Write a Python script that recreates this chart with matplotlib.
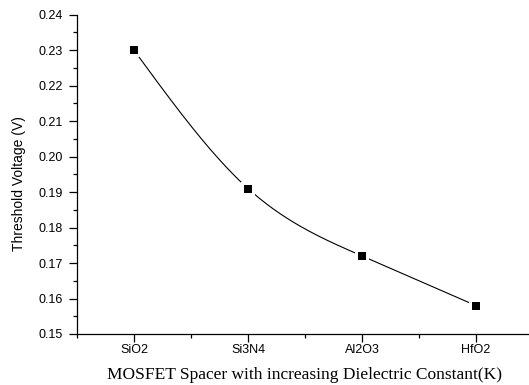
import numpy as np
import matplotlib
matplotlib.use('Agg')
import matplotlib.pyplot as plt
from matplotlib.ticker import MultipleLocator, AutoMinorLocator, FormatStrFormatter

spacers = ['SiO2', 'Si3N4', 'Al2O3', 'HfO2']
vth = [0.230, 0.191, 0.172, 0.158]


def natural_spline(x, y, n=200):
    # plain natural cubic spline, no scipy needed
    x = np.asarray(x, float)
    y = np.asarray(y, float)
    k = len(x)
    h = np.diff(x)
    A = np.zeros((k, k))
    b = np.zeros(k)
    A[0, 0] = A[-1, -1] = 1
    for i in range(1, k - 1):
        A[i, i - 1] = h[i - 1]
        A[i, i] = 2 * (h[i - 1] + h[i])
        A[i, i + 1] = h[i]
        b[i] = 6 * ((y[i + 1] - y[i]) / h[i] - (y[i] - y[i - 1]) / h[i - 1])
    m = np.linalg.solve(A, b)
    xs = np.linspace(x[0], x[-1], n)
    idx = np.clip(np.searchsorted(x, xs) - 1, 0, k - 2)
    x0, x1 = x[idx], x[idx + 1]
    hh = x1 - x0
    t0, t1 = x1 - xs, xs - x0
    ys = (m[idx] * t0**3 + m[idx + 1] * t1**3) / (6 * hh) \
        + (y[idx] / hh - m[idx] * hh / 6) * t0 \
        + (y[idx + 1] / hh - m[idx + 1] * hh / 6) * t1
    return xs, ys


pos = np.arange(1, len(spacers) + 1)
xs, ys = natural_spline(pos, vth)

fig = plt.figure(figsize=(5.29, 3.85), dpi=100)
ax = fig.add_axes([77 / 529, 51 / 385, 452 / 529, 319.3 / 385])

ax.plot(xs, ys, color='black', lw=0.8, zorder=2)
# white squares behind the markers leave a small gap in the curve
ax.plot(pos, vth, ls='none', marker='s', ms=10, color='white', mew=0, zorder=3)
ax.plot(pos, vth, ls='none', marker='s', ms=5.5, color='black', mew=0, zorder=4)

ax.set_xlim(0.5, 0.5 + 452 / 114)
ax.set_ylim(0.15, 0.24)
ax.set_xticks(pos)
ax.set_xticklabels(spacers)
ax.xaxis.set_minor_locator(MultipleLocator(0.5))
ax.yaxis.set_major_locator(MultipleLocator(0.01))
ax.yaxis.set_minor_locator(AutoMinorLocator(2))
ax.yaxis.set_major_formatter(FormatStrFormatter('%.2f'))

for side in ['top', 'right']:
    ax.spines[side].set_visible(False)
for side in ['left', 'bottom']:
    ax.spines[side].set_linewidth(0.9)

ax.tick_params(which='major', direction='out', length=5.5, width=0.9,
               labelsize=9)
ax.tick_params(axis='y', which='major', pad=5)
ax.tick_params(axis='x', which='major', pad=1.5)
ax.tick_params(which='minor', direction='out', length=3, width=0.9)
for lab in ax.get_xticklabels() + ax.get_yticklabels():
    lab.set_family('Liberation Sans')

ax.set_ylabel('Threshold Voltage (V)', family='Liberation Sans', fontsize=10)
ax.set_xlabel('MOSFET Spacer with increasing Dielectric Constant(K)',
              family='Liberation Serif', fontsize=12.5)
ax.yaxis.set_label_coords(-0.113, 0.47)
ax.xaxis.set_label_coords(0.503, -0.102)

fig.savefig('out.png', dpi=100)
